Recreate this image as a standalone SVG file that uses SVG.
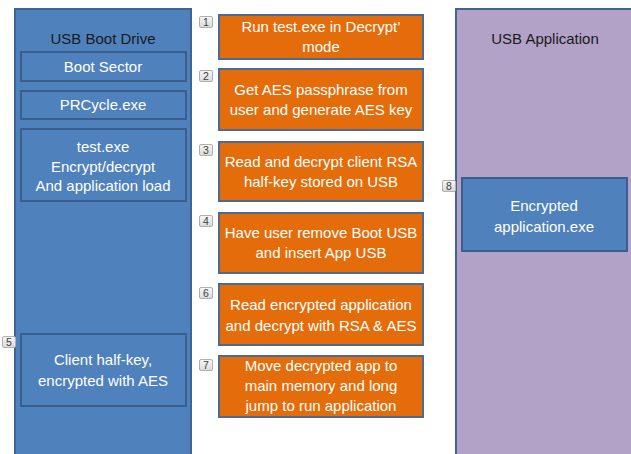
<svg xmlns="http://www.w3.org/2000/svg" width="631" height="454" viewBox="0 0 631 454">
<defs>
<linearGradient id="bg" x1="0" y1="0" x2="0" y2="1">
<stop offset="0" stop-color="#F7F7F7"/>
<stop offset="1" stop-color="#DADADA"/>
</linearGradient>
</defs>
<style>
.panel{stroke:#3F6594;stroke-width:2}
.blue{fill:#4F81BD;stroke:#3A5F8C;stroke-width:2}
.orange{fill:#E46C0A;stroke:#4A6B95;stroke-width:2}
.t{font-family:"Liberation Sans",Arial,sans-serif;font-size:15px;text-anchor:middle}
.w{fill:#FFFFFF}
.k{fill:#1A1A1A}
.badge rect{fill:url(#bg);stroke:#B0B0B0;stroke-width:1}
.badge text{font-family:"Liberation Sans",Arial,sans-serif;font-size:10.5px;fill:#404040;text-anchor:middle}
</style>
<rect width="631" height="454" fill="#FFFFFF"/>
<g id="usb-boot-drive">
<rect class="panel" x="15" y="9" width="176" height="450" fill="#4F81BD"/>
<text class="t k" x="103" y="44">USB Boot Drive</text>
</g>
<g id="boot-sector">
<rect class="blue" x="21" y="52" width="165" height="29"/>
<text class="t w" x="103" y="72">Boot Sector</text>
</g>
<g id="prcycle">
<rect class="blue" x="21" y="91" width="165" height="28"/>
<text class="t w" x="103" y="110">PRCycle.exe</text>
</g>
<g id="test-exe">
<rect class="blue" x="21" y="129" width="165" height="72"/>
<text class="t w" x="103" y="152">test.exe</text>
<text class="t w" x="103" y="172">Encrypt/decrypt</text>
<text class="t w" x="103" y="191">And application load</text>
</g>
<g id="client-half-key">
<rect class="blue" x="21" y="334" width="165" height="72"/>
<text class="t w" x="103" y="365">Client half-key,</text>
<text class="t w" x="103" y="386">encrypted with AES</text>
</g>
<g id="usb-application">
<rect class="panel" x="456" y="9" width="180" height="450" fill="#B2A2C7"/>
<text class="t k" x="545" y="44">USB Application</text>
</g>
<g id="encrypted-app">
<rect class="blue" x="462" y="178" width="165" height="73"/>
<text class="t w" x="544" y="211">Encrypted</text>
<text class="t w" x="544" y="232">application.exe</text>
</g>
<g id="step1">
<rect class="orange" x="219" y="15" width="204" height="44"/>
<text class="t w" x="321" y="32">Run test.exe in Decrypt’</text>
<text class="t w" x="321" y="52">mode</text>
</g>
<g id="step2">
<rect class="orange" x="219" y="69" width="204" height="61"/>
<text class="t w" x="321" y="95">Get AES passphrase from</text>
<text class="t w" x="321" y="115">user and generate AES key</text>
</g>
<g id="step3">
<rect class="orange" x="219" y="142" width="204" height="59"/>
<text class="t w" x="321" y="167">Read and decrypt client RSA</text>
<text class="t w" x="321" y="187">half-key stored on USB</text>
</g>
<g id="step4">
<rect class="orange" x="219" y="213" width="204" height="60"/>
<text class="t w" x="321" y="238">Have user remove Boot USB</text>
<text class="t w" x="321" y="258">and insert App USB</text>
</g>
<g id="step6">
<rect class="orange" x="219" y="284" width="204" height="61"/>
<text class="t w" x="321" y="310">Read encrypted application</text>
<text class="t w" x="321" y="331">and decrypt with RSA &amp; AES</text>
</g>
<g id="step7">
<rect class="orange" x="219" y="356" width="204" height="61"/>
<text class="t w" x="321" y="371">Move decrypted app to</text>
<text class="t w" x="321" y="391">main memory and long</text>
<text class="t w" x="321" y="411">jump to run application</text>
</g>
<g id="badges">
<g class="badge"><rect x="199.5" y="16.5" width="13" height="11" rx="1.5"/><text x="206" y="25.5">1</text></g>
<g class="badge"><rect x="199.5" y="70.5" width="13" height="11" rx="1.5"/><text x="206" y="79.5">2</text></g>
<g class="badge"><rect x="199.5" y="144.5" width="13" height="11" rx="1.5"/><text x="206" y="153.5">3</text></g>
<g class="badge"><rect x="199.5" y="215.5" width="13" height="11" rx="1.5"/><text x="206" y="224.5">4</text></g>
<g class="badge"><rect x="2.5" y="336.5" width="13" height="11" rx="1.5"/><text x="9" y="345.5">5</text></g>
<g class="badge"><rect x="199.5" y="287.5" width="13" height="11" rx="1.5"/><text x="206" y="296.5">6</text></g>
<g class="badge"><rect x="199.5" y="359.5" width="13" height="11" rx="1.5"/><text x="206" y="368.5">7</text></g>
<g class="badge"><rect x="442.5" y="180.5" width="13" height="11" rx="1.5"/><text x="449" y="189.5">8</text></g>
</g>
<g id="connectors"/>
</svg>
